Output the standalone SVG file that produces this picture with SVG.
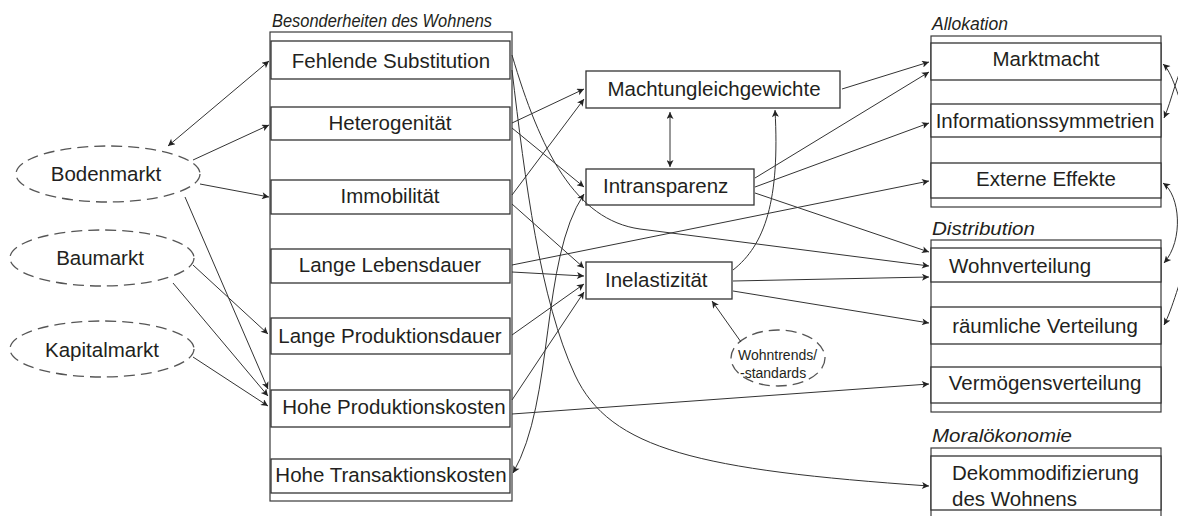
<svg xmlns="http://www.w3.org/2000/svg" width="1178" height="516" viewBox="0 0 1178 516">
<style>
.frame{fill:#fff;stroke:#3a3a3a;stroke-width:1.2}
.box{fill:#fff;stroke:#333;stroke-width:1.3}
.t{font-family:"Liberation Sans",Arial,sans-serif;font-size:20.5px;fill:#231f20}
.m{text-anchor:middle}
.ti{font-family:"Liberation Sans",Arial,sans-serif;font-size:18px;font-style:italic;fill:#231f20}
.sm{font-family:"Liberation Sans",Arial,sans-serif;font-size:14px;fill:#231f20}
.ell{fill:#fff;stroke:#555;stroke-width:1.3;stroke-dasharray:11 6}
.c{fill:none;stroke:#333;stroke-width:1;marker-end:url(#a)}
.d{marker-start:url(#a)}
</style>
<defs>
<marker id="a" viewBox="0 0 10 10" refX="10" refY="5" markerWidth="9" markerHeight="7" markerUnits="userSpaceOnUse" orient="auto-start-reverse">
<path d="M0,0 L10,5 L0,10 L2.5,5 z" fill="#222"/>
</marker>
</defs>

<!-- Left column -->
<g id="besonderheiten">
<text class="ti" x="272" y="27" textLength="220" lengthAdjust="spacingAndGlyphs">Besonderheiten des Wohnens</text>
<rect class="frame" x="270" y="32" width="242" height="469"/>
</g>
<g id="fehlende-substitution"><rect class="box" x="271" y="41" width="239" height="38"/><text class="t m" x="391" y="68">Fehlende Substitution</text></g>
<g id="heterogenitaet"><rect class="box" x="271" y="107" width="239" height="33"/><text class="t m" x="390" y="130">Heterogenität</text></g>
<g id="immobilitaet"><rect class="box" x="271" y="180" width="239" height="34"/><text class="t m" x="390" y="203">Immobilität</text></g>
<g id="lange-lebensdauer"><rect class="box" x="271" y="249" width="239" height="34"/><text class="t m" x="390" y="272">Lange Lebensdauer</text></g>
<g id="lange-produktionsdauer"><rect class="box" x="271" y="318" width="239" height="36"/><text class="t m" x="390" y="343">Lange Produktionsdauer</text></g>
<g id="hohe-produktionskosten"><rect class="box" x="271" y="390" width="239" height="37"/><text class="t m" x="394" y="414">Hohe Produktionskosten</text></g>
<g id="hohe-transaktionskosten"><rect class="box" x="271" y="459" width="239" height="34"/><text class="t m" x="391" y="482">Hohe Transaktionskosten</text></g>

<!-- Markets -->
<g id="bodenmarkt"><ellipse class="ell" cx="108" cy="174" rx="92" ry="28"/><text class="t m" x="106" y="181">Bodenmarkt</text></g>
<g id="baumarkt"><ellipse class="ell" cx="102" cy="258" rx="92" ry="28"/><text class="t m" x="100" y="265">Baumarkt</text></g>
<g id="kapitalmarkt"><ellipse class="ell" cx="102" cy="349" rx="92" ry="28"/><text class="t m" x="102" y="357">Kapitalmarkt</text></g>

<!-- Middle -->
<g id="machtungleichgewichte"><rect class="box" x="586" y="71" width="254" height="37"/><text class="t m" x="714" y="96">Machtungleichgewichte</text></g>
<g id="intransparenz"><rect class="box" x="586" y="169" width="168" height="36"/><text class="t" x="603" y="193">Intransparenz</text></g>
<g id="inelastizitaet"><rect class="box" x="586" y="262" width="146" height="37"/><text class="t" x="605" y="287">Inelastizität</text></g>
<g id="wohntrends"><ellipse class="ell" cx="778" cy="358" rx="47" ry="28"/><text class="sm" x="738" y="360">Wohntrends/</text><text class="sm" x="740" y="378">-standards</text></g>

<!-- Right: Allokation -->
<g id="allokation">
<text class="ti" x="932" y="30" textLength="76" lengthAdjust="spacingAndGlyphs">Allokation</text>
<rect class="frame" x="931" y="36" width="230" height="171"/>
</g>
<g id="marktmacht"><rect class="box" x="931" y="43" width="230" height="37"/><text class="t m" x="1046" y="66">Marktmacht</text></g>
<g id="informationssymmetrien"><rect class="box" x="931" y="104" width="230" height="33"/><text class="t m" x="1045" y="128">Informationssymmetrien</text></g>
<g id="externe-effekte"><rect class="box" x="931" y="163" width="230" height="35"/><text class="t m" x="1046" y="186">Externe Effekte</text></g>

<!-- Right: Distribution -->
<g id="distribution">
<text class="ti" x="932" y="235" textLength="103" lengthAdjust="spacingAndGlyphs">Distribution</text>
<rect class="frame" x="931" y="240" width="230" height="172"/>
</g>
<g id="wohnverteilung"><rect class="box" x="931" y="248" width="230" height="34"/><text class="t" x="949" y="273">Wohnverteilung</text></g>
<g id="raeumliche-verteilung"><rect class="box" x="931" y="307" width="230" height="37"/><text class="t m" x="1045" y="333">räumliche Verteilung</text></g>
<g id="vermoegensverteilung"><rect class="box" x="931" y="367" width="230" height="36"/><text class="t m" x="1045" y="390">Vermögensverteilung</text></g>

<!-- Right: Moralökonomie -->
<g id="moraloekonomie">
<text class="ti" x="932" y="442" textLength="140" lengthAdjust="spacingAndGlyphs">Moralökonomie</text>
<rect class="frame" x="931" y="448" width="230" height="80"/>
</g>
<g id="dekommodifizierung"><rect class="box" x="931" y="456" width="230" height="54"/><text class="t" x="952" y="480">Dekommodifizierung</text><text class="t" x="952" y="506">des Wohnens</text></g>

<!-- Connectors -->
<g id="connectors">
<path class="c d" d="M168,146 L269,61"/>
<path class="c" d="M193,160 L269,125"/>
<path class="c" d="M200,184 L269,197"/>
<path class="c" d="M185,197 L268,389"/>
<path class="c" d="M193,265 L268,334"/>
<path class="c" d="M173,283 L268,396"/>
<path class="c" d="M193,357 L268,406"/>

<path class="c" d="M512,123 L584,89"/>
<path class="c" d="M512,128 L584,187"/>
<path class="c" d="M512,195 L584,99"/>
<path class="c" d="M512,204 L584,268"/>
<path class="c" d="M512,265 L929,181"/>
<path class="c" d="M512,272 L584,276"/>
<path class="c" d="M512,335 L584,284"/>
<path class="c" d="M512,400 L584,292"/>
<path class="c" d="M512,414 L929,384"/>
<path class="c" d="M512,55 C540,150 575,220 640,229 L929,266"/>
<path class="c" d="M512,70 C525,180 540,300 575,375 C610,450 700,470 929,486"/>
<path class="c d" d="M513,473 C555,400 540,260 584,194"/>

<path class="c d" d="M670,112 L670,167"/>
<path class="c" d="M733,270 C765,245 780,200 775,110"/>
<path class="c" d="M842,89 L929,62"/>
<path class="c" d="M755,178 L929,72"/>
<path class="c" d="M755,187 L929,123"/>
<path class="c" d="M755,193 L929,252"/>
<path class="c" d="M733,281 L929,277"/>
<path class="c" d="M733,291 L929,323"/>
<path class="c" d="M741,342 L712,301"/>

<path class="c d" d="M1163,64 C1172,72 1178,95 1190,130" style="marker-end:none"/>
<path class="c" d="M1190,50 C1176,75 1172,100 1164,118"/>
<path class="c d" d="M1163,183 C1180,195 1184,240 1164,263"/>
<path class="c" d="M1192,245 C1180,280 1172,310 1164,325"/>
</g>
</svg>
